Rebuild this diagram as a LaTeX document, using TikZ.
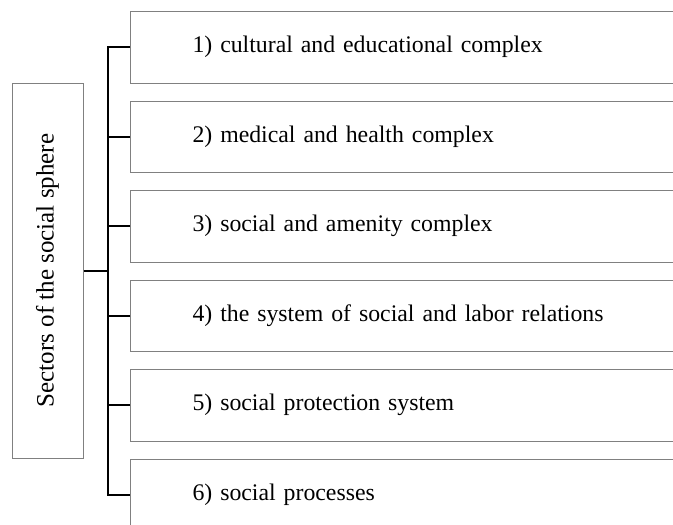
\documentclass[tikz,border=0pt]{standalone}
\usepackage{fontspec}
\setmainfont{Liberation Serif}
\usetikzlibrary{positioning}

\begin{document}
\begin{tikzpicture}[x=1pt,y=-1pt,font=\fontsize{23.8}{28}\selectfont,
        sect/.style={draw=gray,line width=1pt,minimum width=71pt,minimum height=375pt,inner sep=0pt,font=\fontsize{25}{30}\selectfont},
        item/.style={draw=gray,line width=1pt,anchor=north west,text width=507pt,align=left,inner xsep=62pt,inner ysep=0pt,minimum height=71.5pt},
        conn/.style={black,line width=2pt},
        node distance=17pt]
    \useasboundingbox (0,0) rectangle (673,525);
    \clip (0,0) rectangle (673,525);
    \node[sect] (sector) at (47.5,270.5) {\rotatebox{90}{Sectors of the social sphere}};
    \node[item] (b1) at (130,11) {1) cultural and educational complex};
    \node[item] (b2) [below=of b1.south west,anchor=north west] {2) medical and health complex};
    \node[item] (b3) [below=of b2.south west,anchor=north west] {3) social and amenity complex};
    \node[item] (b4) [below=of b3.south west,anchor=north west] {4) the system of social and labor relations};
    \node[item] (b5) [below=of b4.south west,anchor=north west] {5) social protection system};
    \node[item] (b6) [below=of b5.south west,anchor=north west] {6) social processes};
    \draw[conn] (sector.east) -- ++(24,0) coordinate (hub);
    \draw[conn] (b1.west) -| (hub) |- (b6.west);
    \draw[conn] (b2.west) -- (b2.west -| hub);
    \draw[conn] (b3.west) -- (b3.west -| hub);
    \draw[conn] (b4.west) -- (b4.west -| hub);
    \draw[conn] (b5.west) -- (b5.west -| hub);
\end{tikzpicture}
\end{document}
